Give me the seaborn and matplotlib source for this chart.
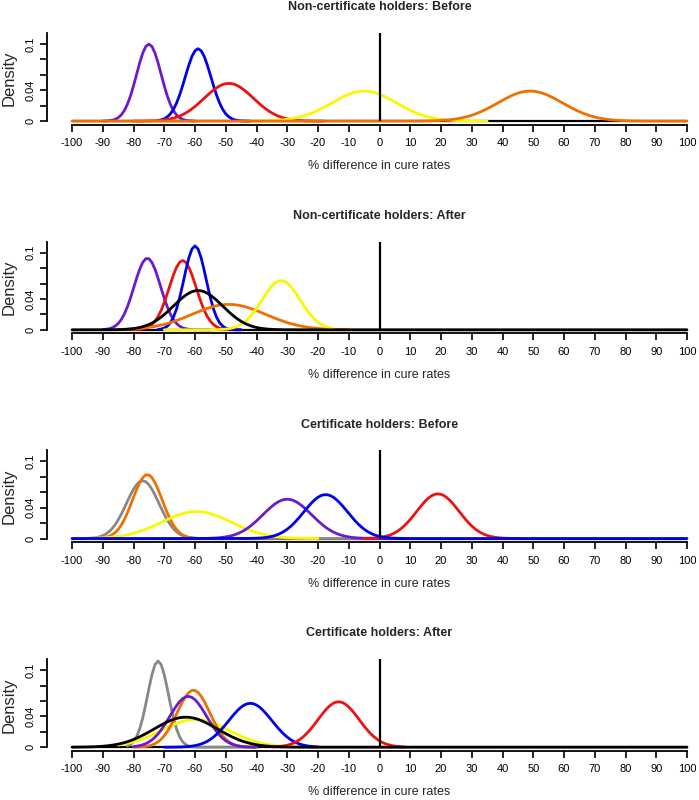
import numpy as np
import pandas as pd
import matplotlib
matplotlib.use("Agg")
import matplotlib.pyplot as plt
import seaborn as sns

# panel titles
titles = ["Non-certificate holders: Before",
          "Non-certificate holders: After",
          "Certificate holders: Before",
          "Certificate holders: After"]

# curves per panel: centre, spread, peak height, drawn range (lo, hi)
p1_colors = ["purple", "blue", "red", "yellow", "orange"]
p1_means = [-75, -59, -49, -5, 49]
p1_sds = [4.0, 4.2, 8.0, 10.5, 10.5]
p1_peaks = [0.100, 0.094, 0.049, 0.039, 0.039]
p1_lo = [-90, -72, -80, -42, -100]
p1_hi = [-60, -42, -18, 35, 100]

p2_colors = ["purple", "red", "blue", "orange", "yellow", "black"]
p2_means = [-75.5, -64, -60, -49, -32, -59]
p2_sds = [4.3, 4.4, 3.6, 12.0, 6.2, 8.0]
p2_peaks = [0.093, 0.090, 0.109, 0.033, 0.064, 0.051]
p2_lo = [-90, -80, -72, -85, -70, -100]
p2_hi = [-55, -45, -45, -10, -15, 100]

p3_colors = ["gray", "orange", "yellow", "purple", "red", "blue"]
p3_means = [-77, -75.5, -59.5, -30, 19, -17.5]
p3_sds = [5.3, 4.8, 11.3, 7.9, 6.9, 7.1]
p3_peaks = [0.075, 0.083, 0.035, 0.051, 0.058, 0.057]
p3_lo = [-95, -92, -95, -60, -5, -100]
p3_hi = [0, -60, -20, 5, 45, 100]

p4_colors = ["gray", "yellow", "orange", "purple", "blue", "red", "black"]
p4_means = [-72, -60, -60.5, -62.2, -42, -13.3, -63]
p4_sds = [3.4, 11.0, 5.3, 6.0, 7.0, 6.7, 10.3]
p4_peaks = [0.112, 0.036, 0.074, 0.066, 0.057, 0.059, 0.039]
p4_lo = [-82, -85, -80, -80, -70, -35, -100]
p4_hi = [-40, -25, -40, -40, -20, 8, 100]

palette = {"purple": "#6A1BD1", "blue": "#0000EE", "red": "#EE1111",
           "yellow": "#F8F800", "orange": "#EE7000", "gray": "#888888",
           "black": "#000000"}

panels = [
    (p1_colors, p1_means, p1_sds, p1_peaks, p1_lo, p1_hi),
    (p2_colors, p2_means, p2_sds, p2_peaks, p2_lo, p2_hi),
    (p3_colors, p3_means, p3_sds, p3_peaks, p3_lo, p3_hi),
    (p4_colors, p4_means, p4_sds, p4_peaks, p4_lo, p4_hi),
]

sns.set_style("white")
plt.rcParams["font.family"] = ["Liberation Sans", "DejaVu Sans"]
plt.rcParams["axes.unicode_minus"] = False

fig = plt.figure(figsize=(6.99, 8), dpi=100)

xticks = list(range(-100, 101, 10))
yticks = [0, 0.02, 0.04, 0.06, 0.08, 0.1]
ytick_labels = ["0", "", "0.04", "", "", "0.1"]

for i, (cols, means, sds, peaks, lo, hi) in enumerate(panels):
    top = 33 + i * 208.7
    ax = fig.add_axes([47.4 / 699, (800 - top - 91.5) / 800, 664.2 / 699, 91.5 / 800])

    ax.hlines(0, -100, 100, color="black", lw=1.6)
    for c, m, s, p, a, b in zip(cols, means, sds, peaks, lo, hi):
        x = np.arange(a, b + 0.5, 1.0)
        df = pd.DataFrame({"x": x, "y": p * np.exp(-(x - m) ** 2 / (2 * s ** 2))})
        sns.lineplot(data=df, x="x", y="y", color=palette[c], lw=2.0, ax=ax)
    ax.vlines(0, 0, 0.1144, color="black", lw=1.6)

    ax.set_xlim(-108, 108)
    ax.set_ylim(-0.0044, 0.1144)
    ax.set_xlabel("")
    ax.set_ylabel("")
    sns.despine(ax=ax)
    ax.spines["left"].set_bounds(0, 0.1144)
    ax.spines["bottom"].set_bounds(-100, 100)
    for sp in ("left", "bottom"):
        ax.spines[sp].set_linewidth(1.3)
        ax.spines[sp].set_color("black")

    ax.set_xticks(xticks)
    ax.set_xticklabels([str(t) for t in xticks])
    ax.set_yticks(yticks)
    ax.set_yticklabels(ytick_labels)
    ax.tick_params(axis="both", direction="out", length=4.8, width=1.2,
                   labelsize=8, colors="black", bottom=True, left=True)
    ax.tick_params(axis="x", pad=5)
    ax.tick_params(axis="y", pad=3.5)
    for lab in ax.get_yticklabels():
        lab.set_rotation(90)
        lab.set_va("center")

    ax.annotate(titles[i], xy=(0.5, 1), xycoords="axes fraction",
                xytext=(0, 18.5), textcoords="offset points",
                ha="center", va="center", fontsize=9, fontweight="bold")
    ax.annotate("% difference in cure rates", xy=(0.5, 0), xycoords="axes fraction",
                xytext=(0, -30), textcoords="offset points",
                ha="center", va="center", fontsize=9)
    ax.annotate("Density", xy=(0, 0.5), xycoords="axes fraction",
                xytext=(-27.6, 0), textcoords="offset points",
                ha="center", va="center", rotation=90, fontsize=12)

fig.savefig("out.png", dpi=100)
